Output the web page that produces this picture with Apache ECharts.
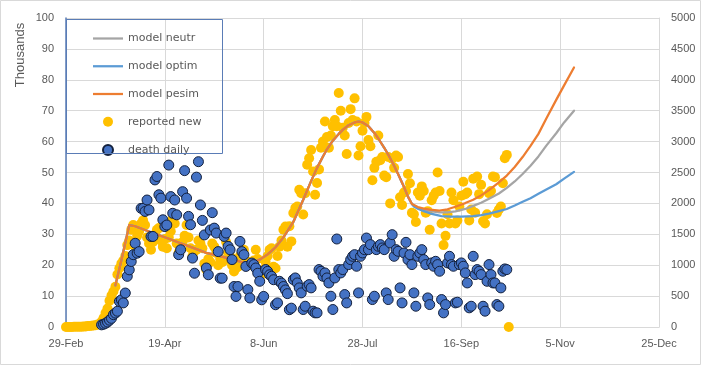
<!DOCTYPE html>
<html>
<head>
<meta charset="utf-8">
<script src="https://cdn.jsdelivr.net/npm/echarts@6/dist/echarts.min.js"></script>
<style>html,body{margin:0;padding:0;background:#fff}#c{width:706px;height:367px}</style>
</head>
<body>
<div id="c"></div>
<script>
// x values are days counted from 29-Feb-2020
const xTickLabels = ['29-Feb','19-Apr','8-Jun','28-Jul','16-Sep','5-Nov','25-Dec'];
const leftTicks = [0,10,20,30,40,50,60,70,80,90,100];
const rightTicks = [0,500,1000,1500,2000,2500,3000,3500,4000,4500,5000];

// reported new cases (thousands), one value per day starting 29-Feb
const reportedStart = 0;
const reportedNew = [
 0,0,0,0,0.1,0.1,0.1,0.1,0.1,0.2,
 0.2,0.3,0.3,0.4,0.5,0.6,0.8,1.0,1.8,2.9,
 4.5,6.0,8.5,10.2,11.5,13.0,17.0,19.0,20.5,21.5,
 23.0,26.5,28.0,31.5,33.0,26.0,29.5,31.0,33.5,34.5,
 33.0,29.0,27.0,25.0,27.5,30.0,31.5,32.0,28.0,26.0,
 28.5,25.5,29.0,31.0,35.0,33.5,27.0,24.0,25.0,27.5,
 29.5,33.0,29.0,25.5,23.0,24.5,25.0,28.0,27.0,25.5,
 20.5,18.5,22.0,21.0,27.0,26.0,24.0,20.0,22.0,21.0,
 21.5,27.5,24.0,23.0,20.0,18.0,19.0,19.5,23.0,24.0,
 25.0,20.5,21.0,21.0,20.0,21.5,25.0,22.0,18.0,17.0,
 18.5,21.0,23.0,25.0,25.5,19.5,19.0,23.0,26.0,28.0,
 31.5,32.5,26.0,32.6,27.7,36.9,38.5,39.0,44.4,43.3,
 36.4,43.3,52.5,54.6,57.3,50.3,42.8,46.6,51.0,58.0,
 60.0,66.5,61.5,58.0,62.0,65.0,67.0,65.0,75.7,70.0,
 64.5,62.0,56.0,66.0,70.5,67.0,74.0,66.5,55.5,58.5,
 63.5,66.0,68.0,60.5,58.5,47.5,51.5,53.5,62.0,54.0,
 55.0,49.0,48.5,55.0,40.0,54.5,51.5,55.5,55.0,42.0,
 39.5,43.5,44.0,49.5,46.5,37.0,36.5,34.0,43.5,42.5,
 45.5,44.0,37.0,37.5,31.5,41.0,42.5,43.5,50.0,44.0,
 33.5,26.5,29.5,36.5,33.5,43.5,41.0,33.5,34.5,39.0,
 42.5,47.0,43.0,43.5,34.5,38.0,48.0,37.0,48.7,43.0,
 46.0,34.2,33.5,36.5,43.3,44.0,48.7,48.5,36.9,38.0,
 39.0,46.5,54.6,55.7,0
];

// daily deaths (right axis), one value per day starting 18-Mar (day 18)
const deathStart = 18;
const deathDaily = [
 35,45,60,80,110,140,200,225,255,415,
 440,390,550,820,925,1060,1170,1355,1195,1220,
 1920,1920,1870,2055,1895,1465,1465,2380,2435,2140,
 2085,1735,1625,1650,2620,2110,1840,2055,1815,1170,
 1250,2190,2530,2085,1790,1655,1115,870,2425,2675,
 1975,1725,1490,955,845,1570,1850,1600,1520,1220,
 790,790,1465,1520,1305,1250,1090,655,495,655,
 1385,1220,1170,980,605,470,1035,1010,955,870,
 740,440,495,930,900,845,820,765,360,390,
 740,710,655,600,540,280,305,767,794,713,
 633,552,283,336,660,686,633,256,229,229,
 929,902,821,875,794,713,498,283,794,1424,
 929,875,929,525,390,1010,1090,1144,1171,983,
 552,1144,1198,1252,1440,1252,1333,444,498,1252,
 1306,1333,1279,1252,552,444,1360,1494,1144,1252,
 1225,633,390,1198,1370,1090,1171,1010,552,336,
 1144,1198,1252,1090,1010,471,363,1037,983,1063,
 1010,902,444,229,363,1037,1144,1010,983,390,
 401,1010,1037,983,875,713,310,336,1144,848,
 929,902,848,336,256,740,1010,848,713,713,
 363,336,633,902,940,929
];

// model curves (thousands): shared fitted part, then the three scenarios [day, value]
const modelBase = [[25,13.5],[28,21.5],[32,33],[35,32.6],[37,32.1],[44,30.4],[51,28.8],[58,27.1],[64,25.7],[71,24],[79,22.8],[85,21.7],[91,20.7],[95,21],[98,21.8],[102,23.5],[106,25.8],[110,29],[115,34],[120,41.2],[124,47.2],[127,51.5],[130,55.2],[132,57.5],[135,60.3],[138,62.5],[140,63.8],[143,65.3],[146,66.2],[148,66.5],[150,66.2],[153,65],[156,62.8],[158,61],[161,58],[163,55.8],[166,52.2],[168,49.5],[171,45.3],[173,42.2],[175,39.8]];
const neutrForecast = [[176,39.2],[178,38.6],[181,37.9],[184,37.5],[189,37.1],[193,37.1],[197,37.4],[202,38.2],[206,39.2],[210,40.2],[214,41.5],[219,43.2],[223,45],[227,47.1],[231,49.5],[235,52.2],[239,55.2],[243,58.7],[248,62.7],[252,66.2],[257,70]];
const optimForecast = [[176,39],[178,38.3],[181,37.5],[184,36.8],[190,35.9],[195,35.7],[200,35.7],[206,35.9],[210,36.2],[214,36.7],[219,37.5],[223,38.2],[227,39.3],[231,40.5],[235,41.7],[239,43.1],[243,44.5],[248,46.2],[252,48],[257,50.2]];
const pesimForecast = [[176,39.3],[178,38.8],[181,38.3],[184,38],[189,37.7],[193,38.1],[197,38.9],[202,40.1],[206,41.2],[210,42.6],[214,44.3],[219,46.8],[223,49],[227,51.8],[231,55],[235,58.6],[239,62.5],[243,67.5],[248,73.5],[252,78.2],[257,84]];

const seriesNames = ['model neutr','model optim','model pesim','reported new','death daily'];

const reportedPts = reportedNew.map((v,i)=>[reportedStart+i, v]);
const deathPts = deathDaily.map((v,i)=>[deathStart+i, v]);

const FONT = 'Liberation Sans';
const GRID = '#d9d9d9';
const TXT = '#595959';
const LINE_ICON = 'path://M0,0L30,0L30,2.25L0,2.25Z';

const chart = echarts.init(document.getElementById('c'), null, {renderer:'canvas'});
const lineSeries = (name, data, color) => ({
  name, type:'line', data, yAxisIndex:0, symbol:'none', showSymbol:false, smooth:false, z:3,
  lineStyle:{color, width:2.25, cap:'round', join:'round'}, itemStyle:{color}
});
chart.setOption({
  animation:false,
  backgroundColor:'#fff',
  grid:{left:66, right:47, top:18, bottom:40},
  xAxis:{
    type:'value', min:0, max:300, interval:50,
    axisLine:{show:true, onZero:false, lineStyle:{color:GRID}},
    axisTick:{show:false},
    splitLine:{show:true, lineStyle:{color:GRID, width:1}},
    axisLabel:{color:TXT, fontFamily:FONT, fontSize:11, margin:11,
      formatter:(v)=>xTickLabels[Math.round(v/50)] || ''}
  },
  yAxis:[{
    type:'value', min:0, max:100, interval:10, position:'left',
    axisLine:{show:true, lineStyle:{color:'#5a7cb6', width:1.5}},
    axisTick:{show:false},
    splitLine:{show:true, lineStyle:{color:GRID, width:1}},
    axisLabel:{color:TXT, fontFamily:FONT, fontSize:11, margin:12,
      formatter:(v)=>leftTicks.includes(v)? String(v):''}
  },{
    type:'value', min:0, max:5000, interval:500, position:'right',
    axisLine:{show:true, lineStyle:{color:GRID}},
    axisTick:{show:true, inside:true, length:4, lineStyle:{color:GRID}},
    splitLine:{show:false},
    axisLabel:{color:TXT, fontFamily:FONT, fontSize:11, margin:12,
      formatter:(v)=>rightTicks.includes(v)? String(v):''}
  }],
  legend:{
    data:[
      {name:seriesNames[0], icon:LINE_ICON, itemStyle:{color:'#A5A5A5'}},
      {name:seriesNames[1], icon:LINE_ICON, itemStyle:{color:'#5B9BD5'}},
      {name:seriesNames[2], icon:LINE_ICON, itemStyle:{color:'#ED7D31'}},
      {name:seriesNames[3], icon:'circle'},
      {name:seriesNames[4], icon:'circle'}
    ],
    orient:'vertical', left:88, top:28,
    itemWidth:30, itemHeight:10, itemGap:16.75,
    textStyle:{color:TXT, fontFamily:'DejaVu Sans', fontSize:11, lineHeight:10}
  },
  graphic:[
    {type:'rect', shape:{x:0.5, y:0.5, width:700, height:364}, style:{fill:'none', stroke:GRID, lineWidth:1}, silent:true, z:-10},
    {type:'rect', shape:{x:66.5, y:19.5, width:156, height:134}, style:{fill:'none', stroke:'#5a7cb6', lineWidth:1}, silent:true, z:50},
    {type:'text', x:20, y:55, rotation:Math.PI/2, style:{text:'Thousands', fill:TXT, font:'13px "Liberation Sans"', textAlign:'center', textVerticalAlign:'middle'}, silent:true}
  ],
  series:[
    lineSeries(seriesNames[0], modelBase.concat(neutrForecast), '#A5A5A5'),
    lineSeries(seriesNames[1], modelBase.concat(optimForecast), '#5B9BD5'),
    lineSeries(seriesNames[2], modelBase.concat(pesimForecast), '#ED7D31'),
    {name:seriesNames[3], type:'scatter', data:reportedPts, yAxisIndex:0, symbol:'circle', symbolSize:10, z:2,
      itemStyle:{color:'#FFC000', opacity:1}},
    {name:seriesNames[4], type:'scatter', data:deathPts, yAxisIndex:1, symbol:'circle', symbolSize:10, z:4,
      itemStyle:{color:'#4472C4', borderColor:'#14213d', borderWidth:1, opacity:1}}
  ]
});
</script>
</body>
</html>
